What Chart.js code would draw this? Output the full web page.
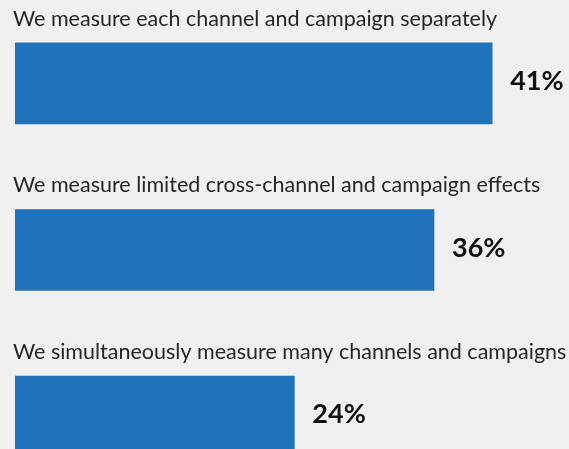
<!DOCTYPE html>
<html>
<head>
<meta charset="utf-8">
<script src="https://cdn.jsdelivr.net/npm/chart.js@4"></script>
<style>
  html, body { margin:0; padding:0; background:#f0f0f0; overflow:hidden; }
  #wrap { width:569px; height:500px; }
</style>
</head>
<body>
<div id="wrap"><canvas id="c"></canvas></div>
<script>
const categories = [
  "We measure each channel and campaign separately",
  "We measure limited cross-channel and campaign effects",
  "We simultaneously measure many channels and campaigns"
];
const shares = [41, 36, 24];
const valueLabels = ["41%", "36%", "24%"];

const labelFont = "21.5px Lato";
const valueFont = "bold 27px Lato";

// category text above each bar, value to the right of it
const rowLabels = {
  id:"rowLabels",
  afterDatasetsDraw(chart){
    const ctx = chart.ctx;
    const meta = chart.getDatasetMeta(0);
    ctx.save();
    meta.data.forEach((bar, i) => {
      const top = bar.y - bar.height/2;
      ctx.font = labelFont;
      ctx.fillStyle = "#262626";
      ctx.textAlign = "left";
      ctx.textBaseline = "middle";
      ctx.fillText(categories[i], 13, top - 24);

      ctx.font = valueFont;
      ctx.fillStyle = "#111";
      ctx.fillText(valueLabels[i], bar.x + 18, bar.y - 2);
    });
    ctx.restore();
  }
};

new Chart(document.getElementById("c"), {
  type:"bar",
  data:{
    labels: categories,
    datasets:[{
      data: shares,
      backgroundColor:"#1f73bb",
      borderWidth:0,
      barThickness:81
    }]
  },
  options:{
    indexAxis:"y",
    responsive:true,
    maintainAspectRatio:false,
    animation:false,
    layout:{ padding:{ left:15, right:0, top:0, bottom:0 } },
    plugins:{ legend:{ display:false }, tooltip:{ enabled:false } },
    scales:{
      x:{ display:false, min:0, max:47.6 },
      y:{ display:false, offset:true }
    }
  },
  plugins:[rowLabels]
});
</script>
</body>
</html>
